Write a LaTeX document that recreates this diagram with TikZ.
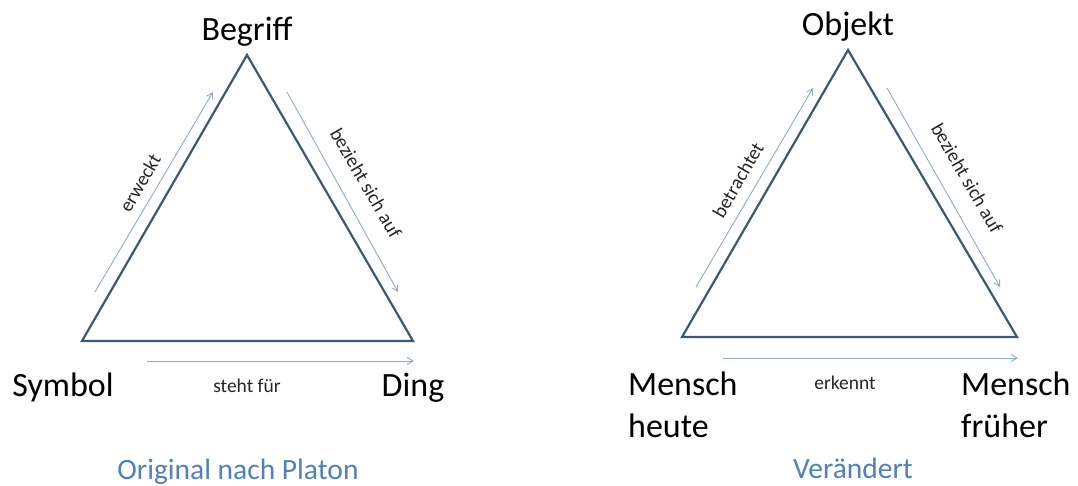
\documentclass[tikz,border=0pt]{standalone}
\usepackage{fontspec}
\setmainfont{Carlito}
\usetikzlibrary{arrows.meta}
\definecolor{triline}{HTML}{3F5777}
\definecolor{arrline}{HTML}{8FAACB}
\definecolor{captblue}{HTML}{4F81BD}
\begin{document}
\begin{tikzpicture}[x=1pt,y=-1pt,
  tri/.style={draw=triline,line width=2.2pt,line join=miter},
  rel/.style={draw=arrline,line width=0.9pt,-{Straight Barb[length=6pt,width=7pt]}},
  big/.style={font=\fontsize{34}{40}\selectfont,text=black,anchor=base,inner sep=0pt},
  small/.style={font=\fontsize{19.5}{23}\selectfont,text=black!85,inner sep=0pt},
  capt/.style={font=\fontsize{29.5}{34}\selectfont,text=captblue,anchor=base,inner sep=0pt}]
\useasboundingbox (0,0) rectangle (1078,485);
\fill[white] (0,0) rectangle (1078,485);
% left triangle
\coordinate (L1) at (247,55);
\coordinate (L2) at (82,341);
\coordinate (L3) at (413,341);
\draw[tri] (L1) -- (L2) -- (L3) -- cycle;
\coordinate (la1) at (95,292);
\coordinate (la2) at (213,92);
\coordinate (lb1) at (287,92);
\coordinate (lb2) at (398,292);
\coordinate (lc1) at (147,361);
\coordinate (lc2) at (414,361);
\draw[rel] (la1) -- (la2);
\draw[rel] (lb1) -- (lb2);
\draw[rel] (lc1) -- (lc2);
\node[big] (begriff) at (247,40) {Begriff};
\node[big] (symbol) at (63,396) {Symbol};
\node[big] (ding) at (413,396) {Ding};
\node[small,rotate=60] (erweckt) at (140,183) {erweckt};
\node[small,rotate=-60] (bezl) at (366,183) {bezieht sich auf};
\node[small,anchor=base] (steht) at (247,392) {steht für};
\node[capt] (orig) at (238,479) {Original nach Platon};
% right triangle
\coordinate (R1) at (848,50);
\coordinate (R2) at (682,337);
\coordinate (R3) at (1017,337);
\draw[tri] (R1) -- (R2) -- (R3) -- cycle;
\coordinate (ra1) at (696,287);
\coordinate (ra2) at (813,88);
\coordinate (rb1) at (887,88);
\coordinate (rb2) at (1000,287);
\coordinate (rc1) at (723,358);
\coordinate (rc2) at (1018,358);
\draw[rel] (ra1) -- (ra2);
\draw[rel] (rb1) -- (rb2);
\draw[rel] (rc1) -- (rc2);
\node[big] (objekt) at (848,35) {Objekt};
\node[big,anchor=base west] (mh1) at (628,395) {Mensch};
\node[big,anchor=base west] (mh2) at (628,437) {heute};
\node[big,anchor=base west] (mf1) at (961,395) {Mensch};
\node[big,anchor=base west] (mf2) at (961,437) {früher};
\node[small,rotate=60] (betr) at (738,180) {betrachtet};
\node[small,rotate=-60] (bezr) at (967,178) {bezieht sich auf};
\node[small,anchor=base] (erk) at (845,389) {erkennt};
\node[capt] (ver) at (853,478) {Verändert};
\end{tikzpicture}
\end{document}
